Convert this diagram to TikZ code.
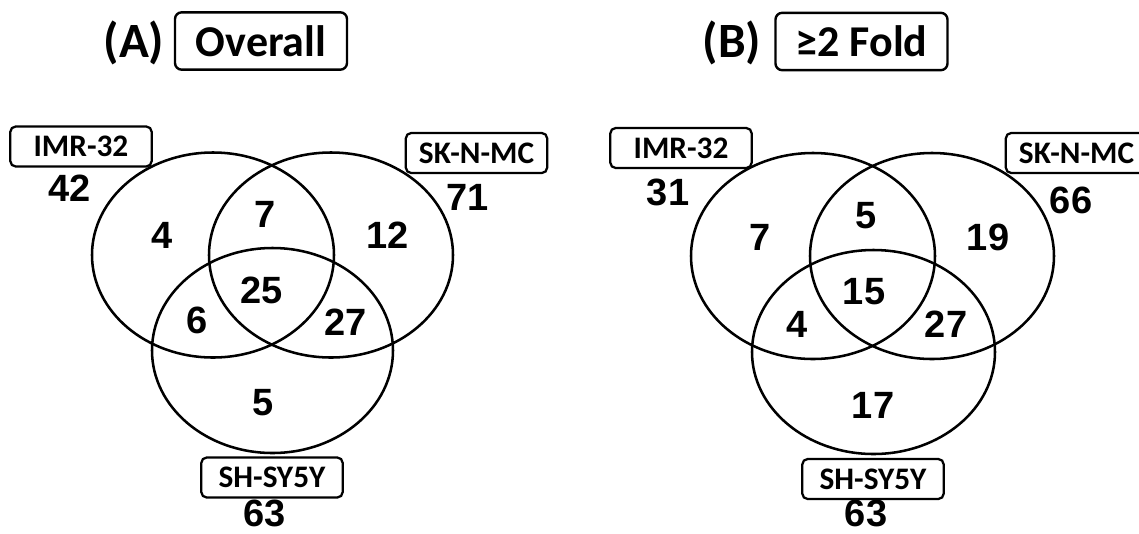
\documentclass[tikz,border=0pt]{standalone}
\usepackage{fontspec}
\setmainfont{Carlito}
\newfontfamily\numfont{Liberation Sans}
\begin{document}
\begin{tikzpicture}[x=0.75pt,y=-0.75pt,
  venn/.style={line width=1.9pt},
  cellbox/.style={draw,line width=1.7pt,rounded corners=4pt,minimum width=106pt,minimum height=30pt,inner sep=0pt,font=\fontsize{23.5}{26}\selectfont\bfseries},
  titlebox/.style={draw,line width=1.8pt,rounded corners=5pt,minimum width=129pt,minimum height=43pt,inner sep=0pt,font=\fontsize{33}{38}\selectfont\bfseries},
  paneltag/.style={inner sep=0pt,font=\fontsize{37}{42}\selectfont\bfseries},
  num/.style={inner sep=0pt,font=\numfont\fontsize{28.5}{32}\selectfont\bfseries}]
\path[use as bounding box] (0,0) rectangle (1139,533);
% ---------- Panel A ----------
\node[paneltag] (tagA) at (134,43) {(A)};
\node[titlebox] (titleA) at (261,41) {Overall};
\draw[venn] (213,255) ellipse [x radius=121, y radius=102.5];
\draw[venn] (331,255) ellipse [x radius=122, y radius=102.5];
\draw[venn] (272.5,350.5) ellipse [x radius=120.5, y radius=102.5];
\node[cellbox] (imrA) at (81,146.5) {IMR-32};
\node[cellbox] (sknA) at (476.5,153) {SK-N-MC};
\node[cellbox] (shsA) at (272,477.5) {SH-SY5Y};
\node[num] (totImrA) at (70,188) {42};
\node[num] (totSknA) at (468,197) {71};
\node[num] (totShsA) at (265,513) {63};
\node[num] (a1) at (162,235) {4};
\node[num] (a2) at (265,214) {7};
\node[num] (a3) at (388,235) {12};
\node[num] (a4) at (262,290) {25};
\node[num] (a5) at (197,320) {6};
\node[num] (a6) at (346,322) {27};
\node[num] (a7) at (263,403) {5};
% ---------- Panel B ----------
\node[paneltag] (tagB) at (732,43) {(B)};
\node[titlebox] (titleB) at (861.5,41.5) {≥2 Fold};
\draw[venn] (813,256) ellipse [x radius=122, y radius=103];
\draw[venn] (932,256) ellipse [x radius=122, y radius=103];
\draw[venn] (873.5,352) ellipse [x radius=121.5, y radius=102];
\node[cellbox] (imrB) at (681,148) {IMR-32};
\node[cellbox] (sknB) at (1076.5,153) {SK-N-MC};
\node[cellbox] (shsB) at (873,479) {SH-SY5Y};
\node[num] (totImrB) at (668,192) {31};
\node[num] (totSknB) at (1071,200) {66};
\node[num] (totShsB) at (866,513) {63};
\node[num] (b1) at (760,237) {7};
\node[num] (b2) at (866,216) {5};
\node[num] (b3) at (988,237) {19};
\node[num] (b4) at (864,292) {15};
\node[num] (b5) at (797,324) {4};
\node[num] (b6) at (946,324) {27};
\node[num] (b7) at (873,405) {17};
\end{tikzpicture}
\end{document}
